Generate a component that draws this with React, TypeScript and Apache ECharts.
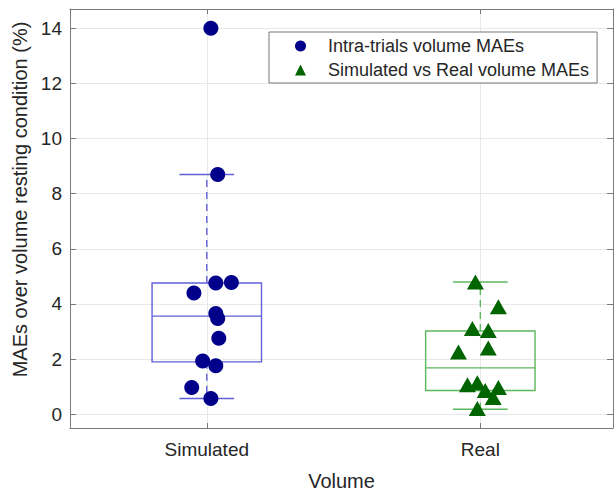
import React, { useEffect, useRef } from "react";
import * as echarts from "echarts";

const categoryLabels = ["Simulated", "Real"];
const boxPositions = [1, 2];
// [lower whisker, Q1, median, Q3, upper whisker]
const simulatedBox = [0.57, 1.9, 3.56, 4.76, 8.7];
const realBox = [0.18, 0.86, 1.68, 3.02, 4.8];

const simulatedX = [1.015, 1.04, 1.033, 1.09, 0.953, 1.033, 1.04, 1.044, 0.985, 1.033, 0.945, 1.015];
const simulatedY = [14.0, 8.7, 4.76, 4.78, 4.4, 3.65, 3.47, 2.76, 1.93, 1.76, 0.97, 0.57];

const realX = [1.982, 2.066, 1.971, 2.029, 1.92, 2.029, 1.953, 1.989, 2.018, 2.066, 2.047, 1.989];
const realY = [4.8, 3.9, 3.11, 3.04, 2.26, 2.4, 1.07, 1.14, 0.86, 0.97, 0.61, 0.21];

const yTicks = [0, 2, 4, 6, 8, 10, 12, 14];

const FONT = "'Liberation Sans', Arial, Helvetica, sans-serif";
const boxColors = ["#6060d8", "#5cb85c"];

export default function App() {
  const ref = useRef<HTMLDivElement>(null);

  useEffect(() => {
    if (!ref.current) return;
    const chart = echarts.init(ref.current, undefined, { renderer: "svg" });

    const boxData = [
      [boxPositions[0], ...simulatedBox],
      [boxPositions[1], ...realBox],
    ];

    const renderBox = (params: any, api: any) => {
      const x = api.value(0);
      const lo = api.value(1);
      const q1 = api.value(2);
      const med = api.value(3);
      const q3 = api.value(4);
      const hi = api.value(5);
      const color = boxColors[params.dataIndex];
      const halfBox = 0.2;
      const halfCap = 0.1;
      const pL = api.coord([x - halfBox, q3]);
      const pR = api.coord([x + halfBox, q1]);
      const pMedL = api.coord([x - halfBox, med]);
      const pMedR = api.coord([x + halfBox, med]);
      const pHi = api.coord([x, hi]);
      const pLo = api.coord([x, lo]);
      const pQ3 = api.coord([x, q3]);
      const pQ1 = api.coord([x, q1]);
      const capHiL = api.coord([x - halfCap, hi]);
      const capHiR = api.coord([x + halfCap, hi]);
      const capLoL = api.coord([x - halfCap, lo]);
      const capLoR = api.coord([x + halfCap, lo]);
      const lineStyle = { stroke: color, lineWidth: 1.4, fill: null };
      return {
        type: "group",
        children: [
          {
            type: "rect",
            shape: { x: pL[0], y: pL[1], width: pR[0] - pL[0], height: pR[1] - pL[1] },
            style: { stroke: color, lineWidth: 1.4, fill: "none" },
          },
          {
            type: "line",
            shape: { x1: pMedL[0], y1: pMedL[1], x2: pMedR[0], y2: pMedR[1] },
            style: lineStyle,
          },
          {
            type: "line",
            shape: { x1: pQ3[0], y1: pQ3[1], x2: pHi[0], y2: pHi[1] },
            style: { ...lineStyle, lineDash: [7, 5] },
          },
          {
            type: "line",
            shape: { x1: pQ1[0], y1: pQ1[1], x2: pLo[0], y2: pLo[1] },
            style: { ...lineStyle, lineDash: [7, 5] },
          },
          {
            type: "line",
            shape: { x1: capHiL[0], y1: capHiL[1], x2: capHiR[0], y2: capHiR[1] },
            style: { ...lineStyle, lineWidth: 1.5 },
          },
          {
            type: "line",
            shape: { x1: capLoL[0], y1: capLoL[1], x2: capLoR[0], y2: capLoR[1] },
            style: { ...lineStyle, lineWidth: 1.5 },
          },
        ],
      };
    };

    const axisGray = "#7a7a7a";

    chart.setOption({
      animation: false,
      backgroundColor: "#ffffff",
      grid: { left: 70, right: 1, top: 9, bottom: 62, containLabel: false },
      legend: {
        orient: "vertical",
        left: 269,
        top: 32,
        padding: [4, 8, 3, 26],
        itemWidth: 11,
        itemHeight: 11,
        itemGap: 4,
        backgroundColor: "#ffffff",
        borderColor: "#777777",
        borderWidth: 1,
        borderRadius: 0,
        textStyle: {
          fontFamily: FONT,
          fontSize: 18,
          color: "#262626",
          lineHeight: 20,
          padding: [0, 0, 0, 17],
        },
        data: ["Intra-trials volume MAEs", "Simulated vs Real volume MAEs"],
      },
      xAxis: [
        {
          type: "value",
          position: "bottom",
          min: 0.5,
          max: 2.485,
          minInterval: 1,
          maxInterval: 1,
          name: "Volume",
          nameLocation: "middle",
          nameGap: 43,
          nameTextStyle: { fontFamily: FONT, fontSize: 20, color: "#262626" },
          axisLine: { show: true, onZero: false, lineStyle: { color: axisGray, width: 1 } },
          axisTick: { show: true, inside: true, length: 5, lineStyle: { color: axisGray } },
          axisLabel: {
            fontFamily: FONT,
            fontSize: 19,
            color: "#262626",
            margin: 12,
            showMinLabel: false,
            showMaxLabel: false,
            formatter: (v: number) => {
              const i = boxPositions.indexOf(Math.round(v * 1000) / 1000);
              return i >= 0 ? categoryLabels[i] : "";
            },
          },
          splitLine: { show: true, lineStyle: { color: "#e8e8e8", width: 1 } },
        },
        {
          type: "value",
          position: "top",
          min: 0.5,
          max: 2.485,
          minInterval: 1,
          maxInterval: 1,
          axisLine: { show: true, onZero: false, lineStyle: { color: axisGray, width: 1 } },
          axisTick: { show: true, inside: true, length: 5, lineStyle: { color: axisGray } },
          axisLabel: { show: false },
          splitLine: { show: false },
        },
      ],
      yAxis: [
        {
          type: "value",
          position: "left",
          min: -0.5,
          max: 14.7,
          minInterval: 2,
          maxInterval: 2,
          name: "MAEs over volume resting condition (%)",
          nameLocation: "middle",
          nameGap: 38,
          nameTextStyle: {
            fontFamily: FONT,
            fontSize: 20,
            color: "#262626",
            padding: [0, 0, 0, 38],
          },
          axisLine: { show: true, onZero: false, lineStyle: { color: axisGray, width: 1 } },
          axisTick: { show: true, inside: true, length: 6, lineStyle: { color: axisGray } },
          axisLabel: {
            fontFamily: FONT,
            fontSize: 19,
            color: "#262626",
            margin: 8,
            showMinLabel: false,
            showMaxLabel: false,
            formatter: (v: number) => (yTicks.indexOf(v) >= 0 ? String(v) : ""),
          },
          splitLine: { show: true, lineStyle: { color: "#e8e8e8", width: 1 } },
        },
        {
          type: "value",
          position: "right",
          min: -0.5,
          max: 14.7,
          minInterval: 2,
          maxInterval: 2,
          axisLine: { show: true, onZero: false, lineStyle: { color: axisGray, width: 1 } },
          axisTick: { show: true, inside: true, length: 6, lineStyle: { color: axisGray } },
          axisLabel: { show: false },
          splitLine: { show: false },
        },
      ],
      series: [
        {
          type: "custom",
          name: "boxes",
          xAxisIndex: 0,
          yAxisIndex: 0,
          renderItem: renderBox,
          data: boxData,
          encode: { x: 0, y: [1, 2, 3, 4, 5] },
          z: 2,
          silent: true,
        },
        {
          type: "scatter",
          name: "Intra-trials volume MAEs",
          xAxisIndex: 0,
          yAxisIndex: 0,
          symbol: "circle",
          symbolSize: 15,
          itemStyle: { color: "#00008b", opacity: 1 },
          data: simulatedX.map((x, i) => [x, simulatedY[i]]),
          z: 5,
        },
        {
          type: "scatter",
          name: "Simulated vs Real volume MAEs",
          xAxisIndex: 0,
          yAxisIndex: 0,
          symbol: "triangle",
          symbolSize: [17, 15],
          itemStyle: { color: "#006400", opacity: 1 },
          data: realX.map((x, i) => [x, realY[i]]),
          z: 5,
        },
      ],
    });

    return () => chart.dispose();
  }, []);

  return (
    <div
      ref={ref}
      style={{ position: "fixed", left: 0, top: 0, width: 614, height: 496, background: "#fff" }}
    />
  );
}
